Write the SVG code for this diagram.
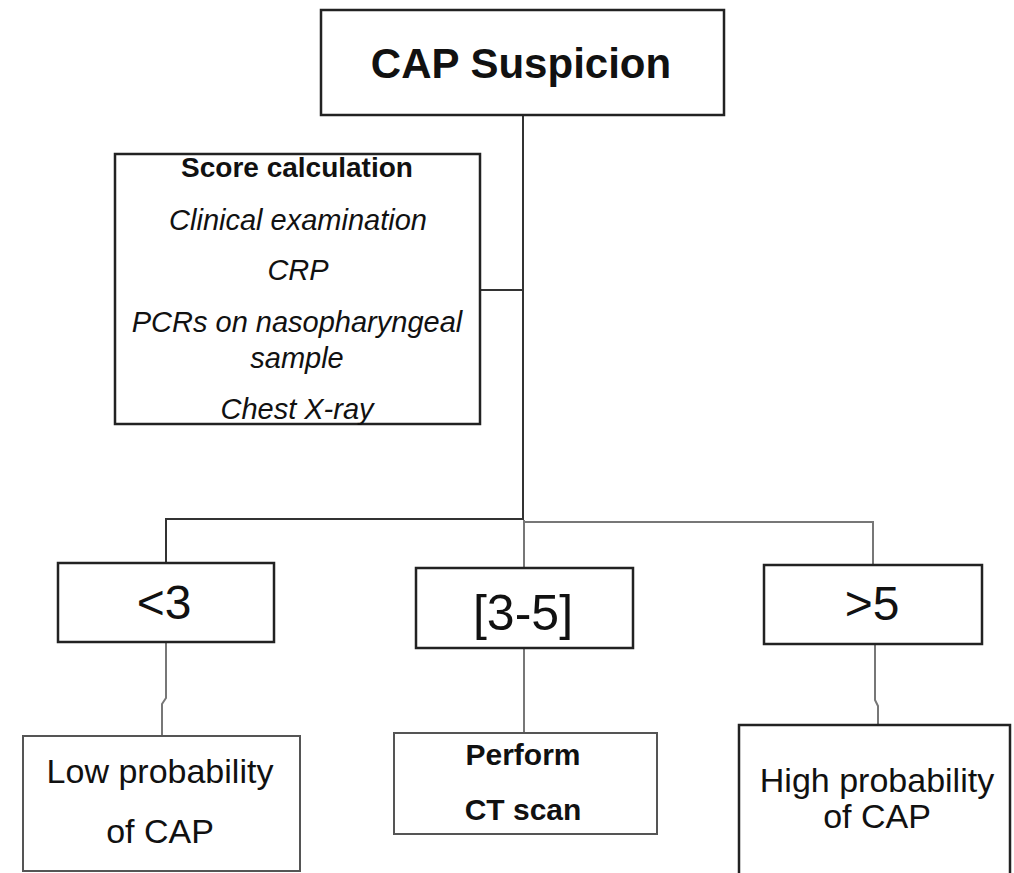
<svg xmlns="http://www.w3.org/2000/svg" width="1014" height="873" viewBox="0 0 1014 873">
<style>
.box{fill:#fff;stroke:#222;stroke-width:2.5}
.box2{fill:#fff;stroke:#555;stroke-width:2}
.ln{fill:none;stroke:#333;stroke-width:2}
.ln2{fill:none;stroke:#777;stroke-width:2}
text{font-family:"Liberation Sans",Arial,sans-serif;fill:#111;text-anchor:middle}
.b{font-weight:bold}
.i{font-style:italic}
</style>
<rect width="1014" height="873" fill="#fff"/>
<g id="connectors">
<path class="ln" d="M523,115 V520"/>
<path class="ln" d="M480,290 H523"/>
<path class="ln" d="M523,519 H166 V563"/>
<path class="ln2" d="M524,522 H873 V565"/>
<path class="ln2" d="M524,520 V568"/>
<path class="ln2" d="M166,642 V698 L162,704 V736"/>
<path class="ln2" d="M524,648 V733"/>
<path class="ln2" d="M875,644 V700 L878,706 V725"/>
</g>
<g id="cap">
<rect class="box" x="321" y="10" width="403" height="105"/>
<text class="b" x="521" y="78" font-size="42">CAP Suspicion</text>
</g>
<g id="score">
<rect class="box" x="115" y="154" width="365" height="270"/>
<text class="b" x="297" y="177" font-size="28">Score calculation</text>
<text class="i" x="298" y="230" font-size="29">Clinical examination</text>
<text class="i" x="298" y="280" font-size="29">CRP</text>
<text class="i" x="297" y="332" font-size="29">PCRs on nasopharyngeal</text>
<text class="i" x="297" y="368" font-size="29">sample</text>
<text class="i" x="297" y="419" font-size="29">Chest X-ray</text>
</g>
<g id="lt3">
<rect class="box" x="58" y="563" width="216" height="79"/>
<text x="164" y="619" font-size="48">&lt;3</text>
</g>
<g id="mid">
<rect class="box" x="416" y="568" width="217" height="80"/>
<text x="523" y="630" font-size="50">[3-5]</text>
</g>
<g id="gt5">
<rect class="box" x="764" y="565" width="218" height="79"/>
<text x="872" y="620" font-size="48">&gt;5</text>
</g>
<g id="low">
<rect class="box2" x="23" y="736" width="277" height="135"/>
<text x="160" y="783" font-size="34">Low probability</text>
<text x="160" y="843" font-size="34">of CAP</text>
</g>
<g id="ct">
<rect class="box2" x="394" y="733" width="263" height="101"/>
<text class="b" x="523" y="765" font-size="30">Perform</text>
<text class="b" x="523" y="820" font-size="30">CT scan</text>
</g>
<g id="high">
<rect class="box" x="739" y="725" width="271" height="160"/>
<text x="877" y="792" font-size="34">High probability</text>
<text x="877" y="828" font-size="34">of CAP</text>
</g>
</svg>
